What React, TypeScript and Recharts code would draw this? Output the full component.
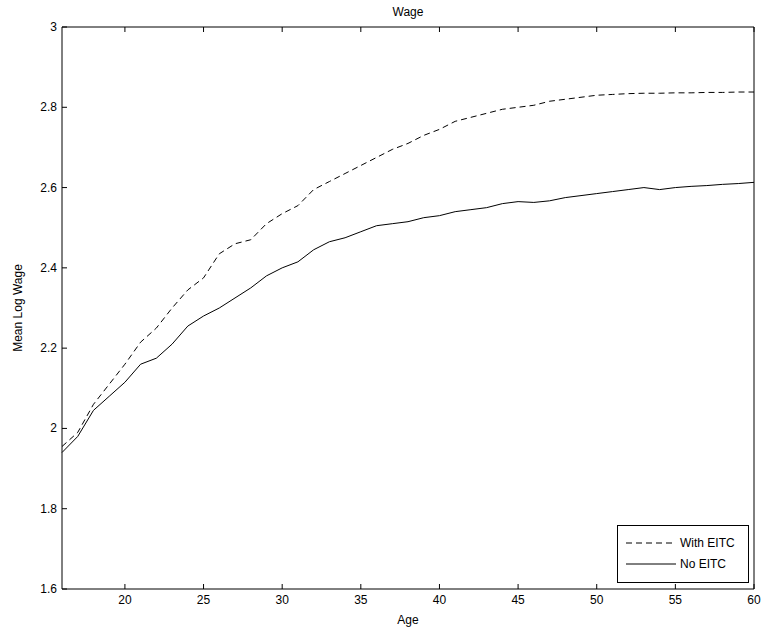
import React from "react";
import { LineChart, Line, XAxis, YAxis } from "recharts";

const ages = [16,17,18,19,20,21,22,23,24,25,26,27,28,29,30,31,32,33,34,35,36,37,38,39,40,41,42,43,44,45,46,47,48,49,50,51,52,53,54,55,56,57,58,59,60];
const withEITC = [1.955,1.99,2.06,2.11,2.16,2.215,2.25,2.30,2.345,2.375,2.435,2.46,2.47,2.51,2.535,2.555,2.595,2.615,2.635,2.655,2.675,2.695,2.71,2.73,2.745,2.765,2.775,2.785,2.795,2.80,2.805,2.815,2.82,2.825,2.83,2.832,2.834,2.835,2.835,2.836,2.836,2.837,2.837,2.838,2.838];
const noEITC = [1.94,1.98,2.045,2.08,2.115,2.16,2.175,2.21,2.255,2.28,2.30,2.325,2.35,2.38,2.40,2.415,2.445,2.465,2.475,2.49,2.505,2.51,2.515,2.525,2.53,2.54,2.545,2.55,2.56,2.565,2.563,2.567,2.575,2.58,2.585,2.59,2.595,2.60,2.595,2.60,2.603,2.605,2.608,2.61,2.613];
const xTicks = [20,25,30,35,40,45,50,55,60];
const yTicks = [1.6,1.8,2,2.2,2.4,2.6,2.8,3];

const data = ages.map((a, i) => ({ age: a, w: withEITC[i], n: noEITC[i] }));
const font = { fontFamily: "Liberation Sans, Arial, sans-serif", fontSize: 12, fill: "#000" };

const BottomTick = (p: any) => (
  <g>
    <line x1={p.x} x2={p.x} y1={p.y} y2={p.y - 5} stroke="#000" />
    <text x={p.x} y={p.y + 15} textAnchor="middle" style={font}>{p.payload.value}</text>
  </g>
);
const TopTick = (p: any) => <line x1={p.x} x2={p.x} y1={p.y} y2={p.y + 5} stroke="#000" />;
const LeftTick = (p: any) => (
  <g>
    <line x1={p.x} x2={p.x + 5} y1={p.y} y2={p.y} stroke="#000" />
    <text x={p.x - 5} y={p.y + 4} textAnchor="end" style={font}>{String(Math.round(p.payload.value * 10) / 10)}</text>
  </g>
);
const RightTick = (p: any) => <line x1={p.x} x2={p.x - 5} y1={p.y} y2={p.y} stroke="#000" />;

export default function App() {
  return (
    <div style={{ position: "absolute", left: 0, top: 0, width: 765, height: 631, background: "#fff" }}>
      <LineChart width={765} height={631} data={data} margin={{ top: 26, right: 10, bottom: 22, left: 22 }}>
        <XAxis xAxisId="b" dataKey="age" type="number" domain={[16, 60]} ticks={xTicks} tick={<BottomTick />} tickLine={false} stroke="#000" tickSize={0} tickMargin={0} height={20} />
        <XAxis xAxisId="t" orientation="top" dataKey="age" type="number" domain={[16, 60]} ticks={xTicks} tick={<TopTick />} tickLine={false} stroke="#000" tickSize={0} tickMargin={0} height={1} />
        <YAxis yAxisId="l" type="number" domain={[1.6, 3]} ticks={yTicks} tick={<LeftTick />} tickLine={false} stroke="#000" tickSize={0} tickMargin={0} width={40} />
        <YAxis yAxisId="r" orientation="right" type="number" domain={[1.6, 3]} ticks={yTicks} tick={<RightTick />} tickLine={false} stroke="#000" tickSize={0} tickMargin={0} width={1} />
        <Line xAxisId="b" yAxisId="l" dataKey="w" stroke="#000" strokeWidth={1} strokeDasharray="6 4" dot={false} isAnimationActive={false} />
        <Line xAxisId="b" yAxisId="l" dataKey="n" stroke="#000" strokeWidth={1} dot={false} isAnimationActive={false} />
        <text x={408} y={16} textAnchor="middle" style={font}>Wage</text>
        <text x={408} y={624} textAnchor="middle" style={font}>Age</text>
        <text x={22} y={308} textAnchor="middle" transform="rotate(-90 22 308)" style={font}>Mean Log Wage</text>
      </LineChart>
      <div style={{ position: "absolute", left: 617, top: 525, width: 130, height: 56, border: "1px solid #000", background: "#fff" }}>
        <svg width={130} height={56} style={{ position: "absolute", left: 0, top: 0 }}>
          <line x1={8} x2={58} y1={17} y2={17} stroke="#000" strokeDasharray="6 4" />
          <line x1={8} x2={58} y1={38} y2={38} stroke="#000" />
          <text x={62} y={21} style={font}>With EITC</text>
          <text x={62} y={42} style={font}>No EITC</text>
        </svg>
      </div>
    </div>
  );
}
